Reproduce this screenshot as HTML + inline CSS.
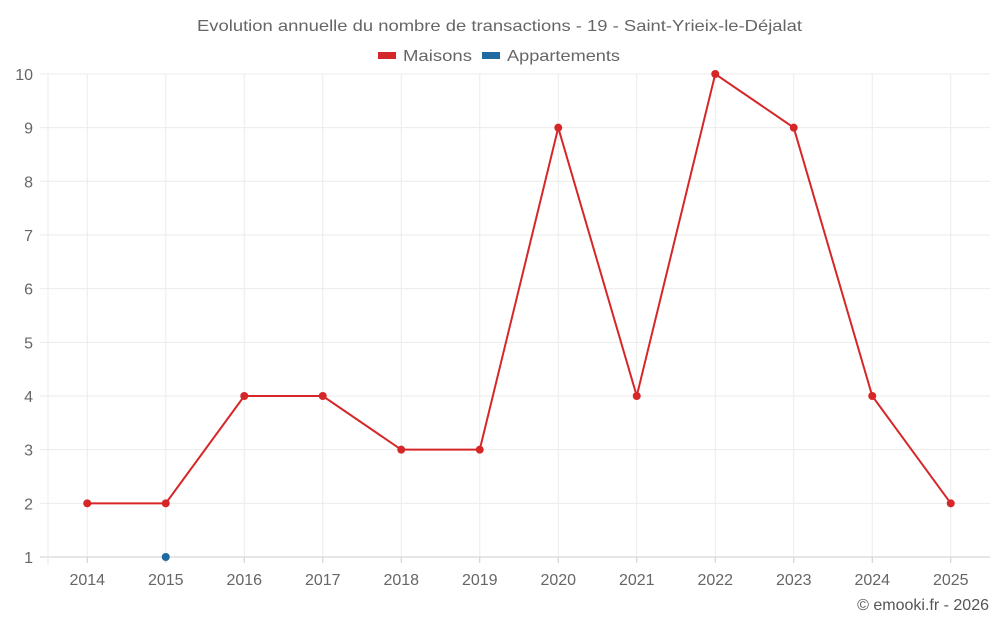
<!DOCTYPE html>
<html><head><meta charset="utf-8"><style>
body{margin:0;background:#fff;width:1000px;height:625px;overflow:hidden;font-family:"Liberation Sans",sans-serif}
</style></head><body>
<svg id="c" width="1000" height="625" style="position:absolute;left:0;top:0">
<text x="197" y="31" textLength="605" lengthAdjust="spacingAndGlyphs" font-size="16" fill="#666">Evolution annuelle du nombre de transactions - 19 - Saint-Yrieix-le-Déjalat</text>
<g><rect x="378" y="52" width="18" height="7" fill="#d62728"/><text x="403" y="61" textLength="69" lengthAdjust="spacingAndGlyphs" font-size="16" fill="#666">Maisons</text></g>
<g><rect x="482" y="52" width="18" height="7" fill="#1f6aa0"/><text x="507" y="61" textLength="113" lengthAdjust="spacingAndGlyphs" font-size="16" fill="#666">Appartements</text></g>
<g id="grid"></g><g id="marks"></g>
<text x="989" y="610" text-anchor="end" font-size="16" fill="#555">© emooki.fr - 2026</text>
</svg>
<script>
const categories=["2014","2015","2016","2017","2018","2019","2020","2021","2022","2023","2024","2025"];
const maisons=[2,2,4,4,3,3,9,4,10,9,4,2];
const appartements=[null,1,null,null,null,null,null,null,null,null,null,null];
const yTicks=[1,2,3,4,5,6,7,8,9,10];
const L=48,R=990,T=74,B=557,yMin=1,yMax=10;
const bw=(R-L)/categories.length;
const x=i=>L+bw*(i+0.5);
const y=v=>B-(v-yMin)/(yMax-yMin)*(B-T);
const NS="http://www.w3.org/2000/svg";
const g=document.getElementById('grid'),m=document.getElementById('marks');
function el(t,a,p){const e=document.createElementNS(NS,t);for(const k in a)e.setAttribute(k,a[k]);p.appendChild(e);return e;}
yTicks.forEach(v=>{
 const l=el('line',{x1:40,x2:R,y1:y(v),y2:y(v),stroke:v===yMin?'#ccc':'#ebebeb'},g);
 
 
 const t=el('text',{x:33,y:y(v)+6,'text-anchor':'end','font-size':16,fill:'#666'},g);t.textContent=v;
 
 
});
el('line',{x1:L,x2:L,y1:T,y2:B+8,stroke:'#ebebeb'},g);
categories.forEach((c,i)=>{
 const l=el('line',{x1:x(i),x2:x(i),y1:T,y2:B,stroke:'#ebebeb'},g);
 
 
 el('line',{x1:x(i),x2:x(i),y1:B,y2:B+6,stroke:'#ccc'},g);
 const t=el('text',{x:x(i),y:B+28,'text-anchor':'middle','font-size':16,fill:'#666'},g);t.textContent=c;
 
 
});
function series(vals,color,name){
 let d='';vals.forEach((v,i)=>{if(v!=null)d+=(d?'L':'M')+x(i)+','+y(v);});
 const p=el('path',{d:d,fill:'none',stroke:color,'stroke-width':2},m);
 
 
 vals.forEach((v,i)=>{if(v==null)return;
  const c=el('circle',{cx:x(i),cy:y(v),r:4,fill:color},m);
  
  
 });
}
series(maisons,'#d62728','maisons');
series(appartements,'#1f6aa0','appartements');
</script>
</body></html>
